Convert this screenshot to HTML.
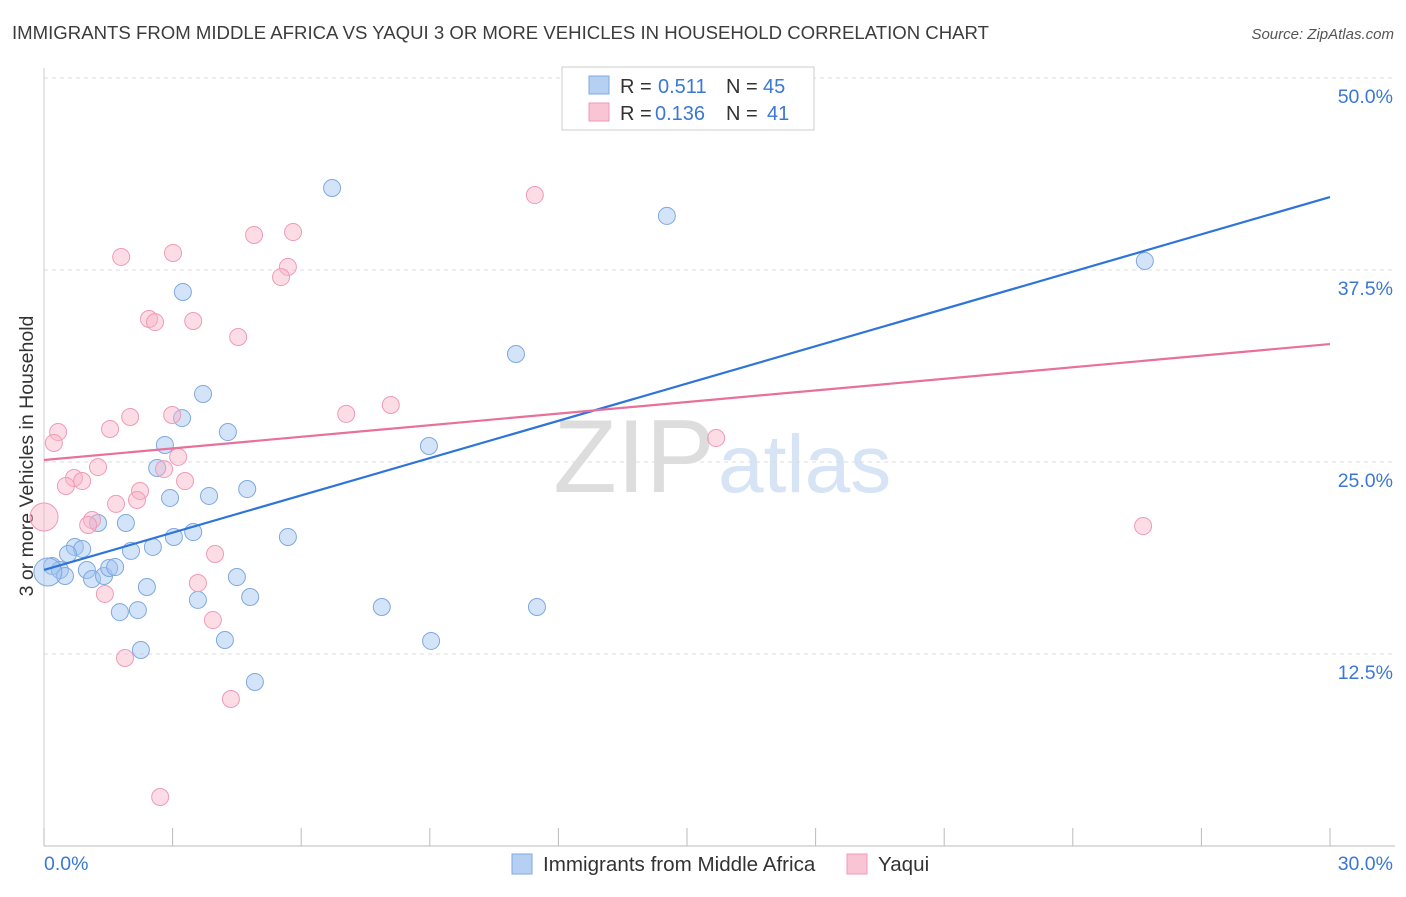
<!DOCTYPE html>
<html><head><meta charset="utf-8"><style>
body{margin:0;background:#fff;font-family:"Liberation Sans",sans-serif;}
svg text{font-family:"Liberation Sans",sans-serif;}
</style></head><body>
<svg id="chart" width="1406" height="892" xmlns="http://www.w3.org/2000/svg">
<text x="12" y="39" font-size="18.6" fill="#3c3c3c">IMMIGRANTS FROM MIDDLE AFRICA VS YAQUI 3 OR MORE VEHICLES IN HOUSEHOLD CORRELATION CHART</text>
<text x="1394" y="39" font-size="15" fill="#555" text-anchor="end" font-style="italic">Source: ZipAtlas.com</text>
<text transform="translate(33,456) rotate(-90)" font-size="19.5" fill="#333" text-anchor="middle">3 or more Vehicles in Household</text>
<text x="715" y="492" font-size="104" fill="#ddd" text-anchor="end" font-family="Liberation Serif">ZIP</text>
<text x="718" y="492" font-size="82" fill="#d6e4f5">atlas</text>
<g id="grid"></g><g id="marks"></g>
<g>
<rect x="562" y="67" width="252" height="63" fill="#fff" stroke="#ccc"/>
<rect x="589" y="76" width="20" height="18" fill="#b6d0f3" stroke="#7fa8e0"/>
<rect x="589" y="103" width="20" height="18" fill="#f9c4d4" stroke="#f09ab8"/>
<text x="620" y="93" font-size="20" fill="#333">R =</text>
<text x="658" y="93" font-size="20" fill="#3a78d4">0.511</text>
<text x="726" y="93" font-size="20" fill="#333">N =</text>
<text x="763" y="93" font-size="20" fill="#3a78d4">45</text>
<text x="620" y="120" font-size="20" fill="#333">R =</text>
<text x="655" y="120" font-size="20" fill="#3a78d4">0.136</text>
<text x="726" y="120" font-size="20" fill="#333">N =</text>
<text x="767" y="120" font-size="20" fill="#3a78d4">41</text>
</g>
<g>
<rect x="512" y="854" width="20" height="20" fill="#b6d0f3" stroke="#7fa8e0"/>
<text x="543" y="871" font-size="20.6" fill="#333">Immigrants from Middle Africa</text>
<rect x="847" y="854" width="20" height="20" fill="#f9c4d4" stroke="#f09ab8"/>
<text x="878" y="871" font-size="20.6" fill="#333">Yaqui</text>
</g>
</svg>
<script>
const blueX=[6.72,14.53,25.68,3.24,11.01,3.71,3.22,2.82,4.29,8.98,2.64,4.74,2.94,3.85,1.91,1.26,5.69,3.48,3.03,2.54,2.03,0.72,0.89,0.56,0.19,0.37,0.49,1.00,1.12,1.40,1.52,1.66,4.50,2.40,3.59,4.81,1.77,2.19,7.88,11.50,4.22,9.03,2.26,4.92,0.09];
const blueY=[42.84,41.02,38.09,36.07,32.03,29.43,27.86,26.11,26.95,26.04,24.61,23.24,22.66,22.79,21.03,21.03,20.12,20.44,20.12,19.47,19.21,19.47,19.34,19.01,18.23,17.97,17.58,17.97,17.38,17.58,18.10,18.16,17.51,16.86,16.02,16.21,15.23,15.36,15.56,15.56,13.41,13.35,12.76,10.68,17.84];
const pinkX=[11.45,4.90,5.81,1.80,3.01,5.69,5.53,2.45,2.59,3.48,4.53,8.09,7.05,2.01,2.99,1.54,0.33,0.23,15.68,3.13,1.26,2.80,3.29,0.70,0.89,0.51,2.24,2.17,1.68,1.12,1.03,25.64,0.0,3.99,3.59,1.42,3.94,1.89,4.36,2.71];
const pinkY=[42.38,39.78,39.97,38.35,38.61,37.70,37.04,34.31,34.11,34.18,33.14,28.71,28.13,27.93,28.06,27.15,26.95,26.24,26.56,25.33,24.67,24.54,23.76,23.96,23.76,23.44,23.11,22.53,22.27,21.22,20.90,20.83,21.42,19.01,17.12,16.41,14.71,12.24,9.57,3.19];
const blueTrend=[17.97,42.25];
const pinkTrend=[25.13,32.68];
const yTicks=[12.5,25.0,37.5,50.0];
const xTickLabels=["0.0%","30.0%"];
const NS="http://www.w3.org/2000/svg";
const sx=v=>44+v/30*1286, sy=v=>846-v/12.5*192;
const grid=document.getElementById('grid'), marks=document.getElementById('marks');
function mk(tag,attrs,parent){const e=document.createElementNS(NS,tag);for(const k in attrs)e.setAttribute(k,attrs[k]);parent.appendChild(e);return e;}
yTicks.forEach(t=>{
 const l=mk('line',{x1:44,x2:1395,y1:sy(t),y2:sy(t),stroke:'#ddd','stroke-dasharray':'4,4'},grid);
 
 
 const tx=mk('text',{x:1393,y:sy(t)+25,'font-size':19.5,fill:'#3a78d4','text-anchor':'end'},grid);
 tx.textContent=t.toFixed(1)+'%';
 
 
});
const ax=mk('line',{x1:44,x2:1395,y1:846,y2:846,stroke:'#bbb'},grid);


const yax=mk('line',{x1:44,x2:44,y1:68,y2:846,stroke:'#ccc'},grid);


for(let i=0;i<=10;i++){
 const x=sx(i*3);
 const t=mk('line',{x1:x,x2:x,y1:828,y2:846,stroke:'#bbb'},grid);
 
 
}
[[0,'start'],[30,'end']].forEach((p,i)=>{
 const t=mk('text',{x:sx(p[0])+(i?63:0),y:870,'font-size':19.5,fill:'#3a78d4','text-anchor':p[1]},grid);
 t.textContent=xTickLabels[i];
 
 
});
function pts(X,Y,fill,stroke,name,bigIdx){
 X.forEach((x,i)=>{
  const c=mk('circle',{cx:sx(x),cy:sy(Y[i]),r:i===bigIdx?14:8.5,fill:fill,stroke:stroke,'stroke-width':1},marks);
  
  
 });
}
pts(blueX,blueY,'rgba(160,196,240,0.45)','#7fa8e0','blue-point',44);
pts(pinkX,pinkY,'rgba(248,180,200,0.45)','#f09ab8','pink-point',32);
const bl=mk('line',{x1:sx(0),y1:sy(blueTrend[0]),x2:sx(30),y2:sy(blueTrend[1]),stroke:'#2f74d8','stroke-width':2.2},marks);


const pl=mk('line',{x1:sx(0),y1:sy(pinkTrend[0]),x2:sx(30),y2:sy(pinkTrend[1]),stroke:'#e8709a','stroke-width':2.2},marks);


</script>
</body></html>
